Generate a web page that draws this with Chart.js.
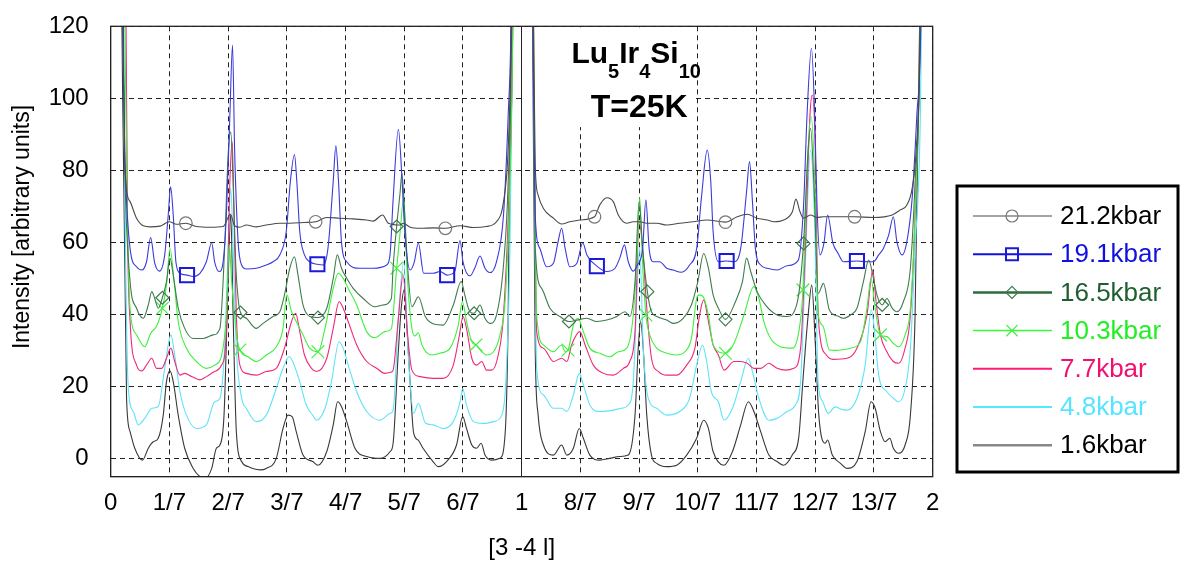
<!doctype html>
<html>
<head>
<title>Lu5Ir4Si10 T=25K</title>
<script src="https://cdn.jsdelivr.net/npm/chart.js@4/dist/chart.umd.min.js"></script>
<style>
body { margin: 0; background: #fff; }
#wrap { width: 1180px; height: 567px; }
</style>
</head>
<body>
<div id="wrap"><canvas id="canvas" width="1180" height="567"></canvas></div>
<script>
// x is read in sevenths of l (0 .. 14 = 0 .. 2), y in arbitrary units
const xTickLabels = ['0', '1/7', '2/7', '3/7', '4/7', '5/7', '6/7', '1', '8/7', '9/7', '10/7', '11/7', '12/7', '13/7', '2'];
const yTicks = [0, 20, 40, 60, 80, 100, 120];
const seriesNames = ['21.2kbar', '19.1kbar', '16.5kbar', '10.3kbar', '7.7kbar', '4.8kbar', '1.6kbar'];

const p212 = [[0,200],[0.17,200],[0.215,123],[0.24,81.5],[0.33,71.3],[0.44,66.7],[0.555,64.6],[0.67,64.3],[0.84,64.5],[1.0,65.7],[1.12,65.0],[1.28,65.3],[1.46,64.4],[1.69,64.2],[1.915,64.4],[2.04,67.8],[2.11,64.6],[2.2,64.2],[2.31,64.8],[2.48,64.3],[2.65,64.8],[2.88,65.3],[3.05,65.3],[3.3,65.5],[3.49,65.7],[3.68,66.9],[3.9,66.7],[4.13,66.5],[4.36,66.2],[4.47,65.9],[4.63,67.6],[4.73,65.3],[4.93,64.8],[4.98,65.3],[5.1,64.2],[5.27,63.9],[5.5,64.0],[5.7,63.9],[5.95,64.6],[6.18,64.1],[6.4,64.4],[6.57,65.7],[6.69,71.3],[6.77,86.1],[6.83,123],[6.88,200],[7.15,200],[7.2,123],[7.23,81.5],[7.28,73.1],[7.37,69.4],[7.54,66.7],[7.68,65.1],[7.82,65.7],[7.99,66.2],[8.24,67.1],[8.33,70.4],[8.45,72.4],[8.56,71.3],[8.645,67.6],[8.79,65.3],[8.9,65.7],[9.01,65.7],[9.13,65.3],[9.3,65.3],[9.47,64.8],[9.69,65.3],[9.92,65.7],[10.15,66.2],[10.47,65.6],[10.67,67.1],[10.84,67.8],[11.01,66.7],[11.18,66.2],[11.295,65.7],[11.46,66.2],[11.61,68.5],[11.67,72.0],[11.74,68.5],[11.8,66.7],[11.92,67.6],[12.03,66.9],[12.14,67.1],[12.48,67.1],[12.67,67.1],[12.99,66.9],[13.31,67.6],[13.45,69.0],[13.56,70.4],[13.65,75.0],[13.72,86.1],[13.78,113.9],[13.82,200],[14,200]];
const p191 = [[0,200],[0.16,200],[0.2,123],[0.24,85],[0.33,58.3],[0.44,53.2],[0.53,52.3],[0.61,54.6],[0.68,61.3],[0.75,54.2],[0.83,52.0],[0.92,56.5],[0.98,67.6],[1.02,75.4],[1.065,67.6],[1.11,54.6],[1.18,51.4],[1.3,50.9],[1.405,50.5],[1.52,51.4],[1.63,54.6],[1.72,59.9],[1.77,54.6],[1.85,51.9],[1.915,54.6],[1.97,67.6],[2.03,95.4],[2.075,114.8],[2.11,86.1],[2.17,60.2],[2.23,53.7],[2.31,52.6],[2.48,52.8],[2.65,53.7],[2.765,54.6],[2.88,56.5],[2.99,63.0],[3.06,76.9],[3.13,84.4],[3.17,76.9],[3.22,63.0],[3.3,56.5],[3.39,54.6],[3.52,53.9],[3.62,53.7],[3.7,58.3],[3.79,76.9],[3.835,86.8],[3.88,76.9],[3.93,60.2],[4.02,54.6],[4.24,52.8],[4.47,52.8],[4.7,53.7],[4.76,57.0],[4.81,71.8],[4.9,91.4],[4.96,78.0],[5.01,62.6],[5.1,52.3],[5.17,54.5],[5.24,59.8],[5.33,51.4],[5.49,51.4],[5.61,51.9],[5.73,50.9],[5.86,51.9],[5.95,60.5],[6.0,54.6],[6.12,50.7],[6.2,52.8],[6.29,56.2],[6.375,52.8],[6.46,51.6],[6.57,54.6],[6.69,67.6],[6.77,95.4],[6.82,123],[6.86,200],[7.15,200],[7.19,123],[7.23,67.6],[7.31,58.3],[7.425,53.2],[7.54,54.2],[7.62,60.2],[7.68,63.9],[7.74,58.3],[7.82,53.2],[7.94,54.2],[8.04,59.9],[8.11,56.5],[8.28,53.4],[8.45,51.9],[8.59,52.8],[8.67,55.6],[8.75,59.3],[8.815,54.6],[8.9,52.0],[8.97,53.7],[9.06,58.3],[9.115,71.8],[9.17,58.3],[9.24,54.6],[9.35,54.6],[9.47,52.8],[9.58,52.3],[9.72,51.7],[9.86,53.7],[9.98,58.3],[10.06,72.2],[10.16,85.6],[10.22,76.9],[10.26,63.0],[10.35,54.6],[10.49,54.8],[10.615,54.6],[10.73,58.3],[10.83,74.1],[10.88,82.4],[10.93,71.3],[10.98,58.3],[11.07,53.7],[11.18,52.8],[11.35,52.3],[11.52,53.5],[11.71,55.0],[11.8,70.0],[11.86,95.4],[11.935,113.9],[11.99,95.4],[12.03,70.0],[12.08,56.5],[12.15,60.0],[12.21,67.6],[12.3,59.8],[12.39,56.9],[12.48,54.6],[12.71,54.8],[12.88,54.6],[12.99,54.6],[13.08,56.5],[13.16,58.3],[13.25,62.0],[13.33,67.1],[13.39,60.2],[13.48,56.5],[13.56,60.2],[13.65,72.2],[13.73,95.4],[13.8,123],[13.84,200],[14,200]];
const p165 = [[0,200],[0.16,200],[0.2,123],[0.24,80],[0.33,49.1],[0.44,41.7],[0.555,38.9],[0.64,42.6],[0.7,46.3],[0.75,44.4],[0.81,41.7],[0.88,44.6],[0.95,49.1],[1.01,55.6],[1.065,50.9],[1.15,41.7],[1.26,36.1],[1.405,33.3],[1.575,33.3],[1.745,34.3],[1.86,36.1],[1.94,58.3],[2.0,84.3],[2.045,90.6],[2.085,76.9],[2.13,53.7],[2.17,44.4],[2.21,40.5],[2.31,38.9],[2.48,36.1],[2.595,37.5],[2.765,39.4],[2.88,40.7],[2.96,45.4],[3.05,52.8],[3.13,56.0],[3.19,50.9],[3.275,42.6],[3.39,39.4],[3.53,39.1],[3.68,41.7],[3.79,50.0],[3.86,56.5],[3.93,52.8],[4.02,50.0],[4.13,47.2],[4.3,44.4],[4.5,42.1],[4.64,42.6],[4.78,44.4],[4.81,53.0],[4.87,64.4],[4.93,74.0],[4.96,79.2],[5.0,70.0],[5.05,55.0],[5.13,42.1],[5.24,44.9],[5.36,39.3],[5.5,37.3],[5.66,37.0],[5.835,42.6],[5.97,49.1],[6.03,45.4],[6.12,40.7],[6.19,40.3],[6.29,42.6],[6.375,38.9],[6.46,37.5],[6.57,39.8],[6.69,53.7],[6.77,76.9],[6.83,123],[6.86,200],[7.15,200],[7.2,110],[7.23,58.3],[7.34,47.2],[7.48,41.7],[7.65,39.4],[7.805,38.0],[7.94,38.4],[8.11,38.9],[8.28,38.0],[8.45,38.4],[8.62,39.4],[8.76,40.7],[8.84,39.4],[8.93,49.1],[9.0,71.3],[9.06,58.3],[9.14,46.3],[9.21,40.7],[9.3,39.4],[9.47,38.4],[9.58,37.5],[9.75,38.9],[9.89,42.6],[10.0,49.1],[10.1,56.9],[10.18,52.8],[10.26,45.4],[10.35,41.7],[10.47,38.6],[10.64,43.5],[10.76,49.1],[10.83,55.6],[10.9,51.9],[11.01,46.3],[11.15,42.6],[11.35,39.8],[11.52,39.4],[11.69,43.1],[11.8,59.7],[11.88,86.1],[11.92,91.7],[11.98,75.0],[12.05,45.8],[12.14,48.6],[12.24,41.2],[12.4,39.4],[12.48,38.9],[12.6,39.8],[12.71,41.7],[12.82,49.1],[12.91,55.1],[12.98,50.9],[13.05,45.4],[13.14,42.6],[13.22,44.4],[13.31,41.7],[13.39,40.7],[13.5,43.5],[13.62,52.8],[13.7,76.9],[13.78,113.9],[13.82,200],[14,200]];
const p103 = [[0,200],[0.19,200],[0.24,123],[0.28,70],[0.33,41.7],[0.44,34.3],[0.58,31.0],[0.67,34.3],[0.7,35.2],[0.78,36.6],[0.88,41.7],[0.95,48.1],[1.01,58.3],[1.08,49.1],[1.15,38.0],[1.29,30.6],[1.46,26.9],[1.63,25.0],[1.77,25.9],[1.89,28.7],[1.97,39.8],[2.02,59.3],[2.06,49.1],[2.11,39.8],[2.15,33.3],[2.2,30.1],[2.34,28.2],[2.48,26.9],[2.65,28.7],[2.82,31.0],[2.935,36.1],[3.0,45.4],[3.08,40.7],[3.16,38.0],[3.275,34.3],[3.39,30.6],[3.53,29.6],[3.65,36.1],[3.79,47.2],[3.875,51.4],[3.96,50.0],[4.045,47.2],[4.19,42.6],[4.36,35.2],[4.5,33.5],[4.67,35.2],[4.78,36.0],[4.87,52.8],[4.93,63.0],[4.99,72.2],[5.03,58.0],[5.07,46.0],[5.13,36.0],[5.18,34.0],[5.24,34.9],[5.3,31.5],[5.47,28.7],[5.61,29.2],[5.78,30.6],[5.92,37.0],[5.99,43.5],[6.06,38.0],[6.15,32.4],[6.22,31.5],[6.32,29.6],[6.4,28.7],[6.52,29.6],[6.63,34.3],[6.72,44.4],[6.8,76.9],[6.85,123],[6.88,200],[7.16,200],[7.21,100],[7.255,39.8],[7.37,31.5],[7.54,29.6],[7.68,31.5],[7.74,29.6],[7.79,30.1],[7.88,37.0],[7.96,38.9],[8.05,35.2],[8.16,30.6],[8.33,29.2],[8.5,28.2],[8.645,29.6],[8.79,30.6],[8.9,39.8],[8.97,58.3],[9.01,72.4],[9.06,53.7],[9.115,39.8],[9.18,34.3],[9.3,30.6],[9.47,29.2],[9.64,28.7],[9.78,29.6],[9.89,33.3],[9.98,44.4],[10.02,45.4],[10.09,44.9],[10.18,39.8],[10.26,31.5],[10.47,29.2],[10.615,31.9],[10.785,39.8],[10.955,47.7],[11.04,44.4],[11.125,38.0],[11.24,33.3],[11.41,31.0],[11.61,30.6],[11.72,35.2],[11.79,46.8],[11.86,80.0],[11.93,95.0],[11.99,78.0],[12.05,40.0],[12.13,36.8],[12.24,30.1],[12.35,30.0],[12.43,30.1],[12.6,30.6],[12.77,32.4],[12.88,41.7],[12.95,50.0],[13.02,41.7],[13.11,34.3],[13.22,33.8],[13.33,31.9],[13.42,31.0],[13.53,34.3],[13.62,41.7],[13.7,67.6],[13.79,123],[13.84,200],[14,200]];
const p77 = [[0,200],[0.2,200],[0.26,123],[0.29,60],[0.33,38],[0.44,25.9],[0.53,24.3],[0.61,25.9],[0.7,27.8],[0.78,25.0],[0.87,25.0],[0.95,27.8],[1.025,30.6],[1.09,26.9],[1.18,23.1],[1.26,23.6],[1.38,22.7],[1.52,21.8],[1.63,22.7],[1.77,24.1],[1.89,25.9],[1.97,35.2],[2.03,76.9],[2.07,88.0],[2.1,67.6],[2.14,39.8],[2.2,25.9],[2.31,23.6],[2.48,23.1],[2.65,24.1],[2.82,25.0],[2.96,30.6],[3.08,38.0],[3.15,40.3],[3.22,35.2],[3.3,28.7],[3.42,25.0],[3.505,24.1],[3.68,27.8],[3.79,36.1],[3.89,43.5],[3.96,41.7],[4.045,38.0],[4.19,31.5],[4.36,26.9],[4.53,25.0],[4.67,23.6],[4.78,24.0],[4.81,24.5],[4.9,39.0],[4.98,51.0],[5.05,35.6],[5.13,24.5],[5.27,22.7],[5.49,22.2],[5.66,22.2],[5.835,25.9],[5.94,34.3],[6.0,39.4],[6.06,36.1],[6.15,27.8],[6.23,25.9],[6.32,26.9],[6.4,24.5],[6.49,24.5],[6.6,28.7],[6.69,39.8],[6.79,76.9],[6.85,123],[6.88,200],[7.16,200],[7.21,100],[7.255,35.2],[7.37,30.6],[7.54,26.9],[7.68,27.8],[7.77,26.9],[7.85,31.5],[7.99,35.2],[8.08,31.5],[8.22,25.9],[8.39,23.6],[8.56,23.1],[8.73,25.0],[8.84,26.9],[8.93,35.2],[9.0,65.7],[9.06,58.3],[9.13,41.7],[9.21,27.8],[9.33,24.1],[9.47,23.1],[9.64,23.1],[9.81,25.9],[9.95,30.6],[10.03,39.8],[10.1,44.0],[10.18,38.0],[10.26,31.5],[10.35,28.7],[10.445,24.5],[10.615,26.9],[10.73,26.9],[10.84,26.4],[10.955,25.0],[11.07,25.0],[11.21,26.4],[11.35,25.0],[11.49,24.5],[11.635,25.0],[11.75,30.6],[11.83,58.3],[11.91,95.4],[11.95,100.9],[12.0,86.1],[12.04,45.0],[12.08,34.0],[12.19,28.7],[12.3,27.5],[12.54,27.8],[12.71,30.6],[12.88,39.8],[12.98,52.3],[13.03,44.4],[13.11,34.3],[13.22,29.6],[13.33,26.9],[13.42,26.4],[13.53,30.6],[13.62,39.8],[13.7,67.6],[13.79,123],[13.84,200],[14,200]];
const p48 = [[0,200],[0.17,200],[0.215,123],[0.25,60],[0.3,19.4],[0.385,13.0],[0.47,9.3],[0.58,11.1],[0.7,13.9],[0.81,14.4],[0.92,25.0],[1.025,34.3],[1.09,28.7],[1.18,18.5],[1.29,12.0],[1.46,8.3],[1.63,9.3],[1.77,15.7],[1.86,16.7],[1.94,30.6],[2.0,58.3],[2.045,75.0],[2.085,58.3],[2.14,30.6],[2.23,16.7],[2.31,13.9],[2.48,10.2],[2.65,12.0],[2.82,19.4],[2.935,25.0],[3.04,28.2],[3.1,26.9],[3.22,21.3],[3.33,14.8],[3.44,12.0],[3.505,10.6],[3.65,13.9],[3.76,21.3],[3.89,32.4],[3.96,30.6],[4.045,25.9],[4.19,18.5],[4.36,13.0],[4.585,10.6],[4.76,12.5],[4.81,13.4],[4.9,39.0],[4.99,54.6],[5.07,28.2],[5.16,12.5],[5.24,15.3],[5.36,9.8],[5.49,9.3],[5.66,8.3],[5.835,10.2],[5.95,15.7],[5.995,19.4],[6.06,14.8],[6.18,10.2],[6.35,9.7],[6.52,10.2],[6.66,12.0],[6.73,21.3],[6.8,58.3],[6.85,123],[6.88,200],[7.16,200],[7.21,90],[7.255,25.0],[7.37,17.6],[7.54,13.9],[7.68,13.9],[7.77,13.0],[7.88,17.6],[7.98,23.6],[8.05,20.4],[8.16,14.8],[8.33,13.0],[8.56,13.4],[8.7,13.9],[8.815,14.8],[8.9,21.3],[8.985,53.7],[9.01,58.3],[9.07,30.6],[9.155,16.7],[9.3,13.9],[9.47,12.0],[9.69,13.0],[9.86,16.7],[9.98,25.9],[10.08,31.5],[10.15,26.9],[10.23,18.5],[10.35,15.7],[10.445,10.6],[10.59,13.9],[10.73,21.3],[10.86,27.8],[10.93,24.1],[11.04,16.7],[11.21,10.6],[11.35,11.1],[11.52,13.0],[11.66,14.8],[11.75,21.3],[11.82,49.1],[11.92,85.6],[11.99,65.0],[12.05,20.9],[12.12,16.0],[12.22,12.5],[12.34,14.3],[12.45,13.6],[12.54,13.4],[12.71,16.7],[12.85,25.9],[12.955,41.2],[13.01,35.2],[13.08,23.1],[13.22,18.5],[13.33,16.7],[13.42,15.7],[13.53,19.4],[13.62,30.6],[13.7,58.3],[13.79,95.4],[13.86,200],[14,200]];
const p16 = [[0,200],[0.15,200],[0.19,123],[0.27,16.7],[0.33,7.4],[0.41,2.8],[0.54,-0.5],[0.64,2.8],[0.725,4.6],[0.81,5.6],[0.895,12.0],[0.95,21.3],[1.01,24.3],[1.065,21.3],[1.15,12.0],[1.26,2.8],[1.405,-2.8],[1.52,-5.1],[1.6,-5.7],[1.72,-2.8],[1.8,2.8],[1.86,3.7],[1.93,12.0],[2.0,49.1],[2.045,67.9],[2.085,39.8],[2.14,7.4],[2.23,-0.9],[2.34,-2.3],[2.54,-3.2],[2.65,-2.8],[2.82,0],[2.935,8.3],[3.02,12.0],[3.09,11.6],[3.16,7.4],[3.275,0.9],[3.44,-0.9],[3.53,-1.9],[3.68,1.9],[3.79,9.3],[3.865,15.7],[3.93,14.4],[4.02,10.2],[4.16,2.8],[4.36,0.5],[4.585,0],[4.76,1.9],[4.81,4.2],[4.9,30.0],[4.95,42.0],[5.0,46.8],[5.05,35.0],[5.1,20.9],[5.16,7.0],[5.24,5.0],[5.32,2.8],[5.49,-0.9],[5.58,-2.3],[5.72,-0.9],[5.89,3.7],[5.995,11.6],[6.06,8.3],[6.15,3.7],[6.23,2.8],[6.31,4.2],[6.375,0.9],[6.49,-0.5],[6.63,0],[6.72,7.4],[6.77,39.8],[6.82,123],[6.85,200],[7.15,200],[7.19,110],[7.23,30.6],[7.28,12.0],[7.37,3.7],[7.54,0.9],[7.68,3.7],[7.77,0.9],[7.88,2.8],[7.98,8.3],[8.05,5.6],[8.16,0.9],[8.33,-0.5],[8.5,0],[8.67,0.5],[8.815,0.9],[8.93,12.0],[8.985,30.6],[9.025,38.0],[9.07,30.6],[9.13,12.0],[9.21,0.9],[9.3,-1.4],[9.47,-2.3],[9.64,-1.9],[9.81,0.9],[9.98,5.6],[10.1,10.6],[10.18,8.3],[10.26,1.9],[10.445,-1.9],[10.59,1.9],[10.73,9.3],[10.86,15.7],[10.955,13.0],[11.07,7.4],[11.21,0.9],[11.35,-0.9],[11.46,-1.9],[11.61,1.0],[11.72,6.0],[11.79,21.7],[11.88,40.0],[11.94,48.1],[12.0,32.0],[12.06,12.0],[12.17,4.2],[12.21,5.1],[12.29,0.9],[12.43,-1.4],[12.54,-2.8],[12.71,-0.9],[12.85,7.4],[12.95,15.7],[13.02,13.9],[13.11,7.4],[13.19,4.6],[13.27,5.6],[13.33,2.8],[13.42,1.4],[13.53,3.7],[13.62,12.0],[13.7,39.8],[13.78,123],[13.82,200],[14,200]];

// x positions (sevenths) where the original carries a symbol
const m212 = [1.28, 3.49, 5.7, 8.24, 10.47, 12.67];
const m191 = [1.3, 3.52, 5.73, 8.28, 10.49, 12.71];
const m165 = [0.88, 2.21, 3.53, 4.87, 6.19, 7.805, 9.14, 10.47, 11.8, 13.14];
const m103 = [0.88, 2.2, 3.53, 4.87, 6.22, 7.79, 9.115, 10.47, 11.79, 13.11];

const FONT = "'Liberation Sans', Arial, Helvetica, sans-serif";
Chart.defaults.font.family = FONT;
Chart.defaults.color = '#000';

const styles = [
  { pts: p212, marks: m212, line: '#4a4a4a', text: '#000', key: '#4a4a4a', keyW: 1.2, mark: 'circle', mColor: '#777', r: 6.3, mw: 1.2 },
  { pts: p191, marks: m191, line: '#3a3adc', text: '#1010e0', key: '#1010e0', keyW: 2, mark: 'rect', mColor: '#1a1ad8', r: 10, mw: 2 },
  { pts: p165, marks: m165, line: '#3f7b4e', text: '#1e5f30', key: '#2e6b3e', keyW: 2.5, mark: 'rectRot', mColor: '#3f7b4e', r: 6.5, mw: 1.2 },
  { pts: p103, marks: m103, line: '#3ef03e', text: '#22ee22', key: '#33ff33', keyW: 1.5, mark: 'crossRot', mColor: '#44ee44', r: 9, mw: 1.2 },
  { pts: p77, marks: [], line: '#f0287a', text: '#f0106e', key: '#ff1a75', keyW: 2, mark: false },
  { pts: p48, marks: [], line: '#5ee3f8', text: '#55e5ff', key: '#55e8ff', keyW: 2, mark: false },
  { pts: p16, marks: [], line: '#383838', text: '#000', key: '#888', keyW: 2.5, mark: false }
];

function drawMark(ctx, st, x, y) {
  ctx.save();
  ctx.strokeStyle = st.mColor;
  ctx.lineWidth = st.mw;
  ctx.beginPath();
  if (st.mark === 'circle') {
    ctx.arc(x, y, st.r, 0, Math.PI * 2);
  } else if (st.mark === 'rect') {
    const h = st.r * Math.SQRT1_2;
    ctx.rect(x - h, y - h, 2 * h, 2 * h);
  } else if (st.mark === 'rectRot') {
    ctx.moveTo(x - st.r, y); ctx.lineTo(x, y - st.r); ctx.lineTo(x + st.r, y); ctx.lineTo(x, y + st.r); ctx.closePath();
  } else if (st.mark === 'crossRot') {
    const h = st.r * Math.SQRT1_2;
    ctx.moveTo(x - h, y - h); ctx.lineTo(x + h, y + h);
    ctx.moveTo(x + h, y - h); ctx.lineTo(x - h, y + h);
  }
  ctx.stroke();
  ctx.restore();
}

const decor = {
  id: 'decor',
  beforeDatasetsDraw(chart) {
    const { ctx, chartArea: a, scales: { x, y } } = chart;
    // the formula label sits on a white patch that hides the grid behind it
    ctx.save();
    ctx.fillStyle = '#fff';
    const l = x.getPixelForValue(7.04), r = x.getPixelForValue(9.94);
    ctx.fillRect(l, a.top + 1, r - l, y.getPixelForValue(92) - a.top - 1);
    ctx.restore();
  },
  afterDatasetsDraw(chart) {
    const { ctx, chartArea: a, scales: { x, y } } = chart;
    ctx.save();
    ctx.strokeStyle = '#222';
    ctx.lineWidth = 1.3;
    ctx.strokeRect(a.left, a.top, a.right - a.left, a.bottom - a.top);

    // title: Lu5Ir4Si10 / T=25K
    const parts = [['Lu', 0], ['5', 1], ['Ir', 0], ['4', 1], ['Si', 0], ['10', 1]];
    const big = 'bold 30px ' + FONT, small = 'bold 20px ' + FONT;
    let total = 0;
    parts.forEach(p => { ctx.font = p[1] ? small : big; total += ctx.measureText(p[0]).width; });
    let cx = x.getPixelForValue(8.95) - total / 2;
    const base = y.getPixelForValue(109.7);
    ctx.fillStyle = '#000';
    ctx.textAlign = 'left';
    ctx.textBaseline = 'alphabetic';
    parts.forEach(p => {
      ctx.font = p[1] ? small : big;
      ctx.fillText(p[0], cx, p[1] ? base + 15 : base);
      cx += ctx.measureText(p[0]).width;
    });
    ctx.font = 'bold 32px ' + FONT;
    ctx.textAlign = 'center';
    ctx.fillText('T=25K', x.getPixelForValue(9.0), y.getPixelForValue(94.9));

    // axis titles
    ctx.font = '24px ' + FONT;
    ctx.textBaseline = 'middle';
    ctx.fillText('[3 -4 l]', (a.left + a.right) / 2, 548);
    ctx.save();
    ctx.translate(23, 227);
    ctx.rotate(-Math.PI / 2);
    ctx.font = '23px ' + FONT;
    ctx.fillText('Intensity [arbitrary units]', 0, 0);
    ctx.restore();

    // legend box
    ctx.lineWidth = 3;
    ctx.strokeStyle = '#000';
    ctx.strokeRect(957, 186, 221, 286);
    ctx.font = '26px ' + FONT;
    ctx.textAlign = 'left';
    styles.forEach((st, i) => {
      const ry = 216 + i * 38.2;
      ctx.strokeStyle = st.key;
      ctx.lineWidth = st.keyW;
      ctx.beginPath();
      ctx.moveTo(973, ry);
      ctx.lineTo(1052, ry);
      ctx.stroke();
      if (st.mark) drawMark(ctx, { ...st, r: st.mark === 'rect' ? 8.5 : (st.mark === 'crossRot' ? 8 : 6) }, 1012, ry);
      ctx.fillStyle = st.text;
      ctx.fillText(seriesNames[i], 1060, ry + 1);
    });
    ctx.restore();
  }
};

const dashes = [5, 4];

new Chart(document.getElementById('canvas'), {
  type: 'line',
  data: {
    datasets: styles.map((st, i) => ({
      label: seriesNames[i],
      data: st.pts.map(p => ({ x: p[0], y: p[1] })),
      borderColor: st.line,
      borderWidth: 1.1,
      cubicInterpolationMode: 'monotone',
      pointStyle: st.mark || 'circle',
      pointRadius: ctx => (st.mark && ctx.raw && st.marks.includes(ctx.raw.x) ? st.r : 0),
      pointHoverRadius: 0,
      pointBorderColor: st.mColor || st.line,
      pointBorderWidth: st.mw || 1,
      pointBackgroundColor: 'rgba(0,0,0,0)',
      clip: 0
    }))
  },
  options: {
    responsive: false,
    animation: false,
    devicePixelRatio: 1,
    events: [],
    layout: { padding: { left: 0, top: 26.3, right: 247.3, bottom: 0 } },
    plugins: { legend: { display: false }, tooltip: { enabled: false } },
    scales: {
      x: {
        type: 'linear',
        min: 0,
        max: 14,
        afterBuildTicks: ax => { ax.ticks = xTickLabels.map((_, i) => ({ value: i })); },
        afterFit: ax => { ax.height = 90.3; ax.paddingLeft = 0; ax.paddingRight = 0; },
        ticks: {
          callback: (v, i) => xTickLabels[i],
          autoSkip: false,
          maxRotation: 0,
          font: { size: 24 },
          padding: 12
        },
        grid: { color: '#222', lineWidth: 1, drawTicks: false },
        border: { display: true, color: '#222', width: 1, dash: ctx => (ctx.tick && ctx.tick.value === 7 ? [] : dashes) }
      },
      y: {
        type: 'linear',
        min: -5.1,
        max: 120,
        afterBuildTicks: ax => { ax.ticks = yTicks.map(v => ({ value: v })); },
        // keep the label padding from pushing the plot top down
        afterFit: ax => { ax.width = 110.7; ax.paddingTop = 0; ax.paddingBottom = 0; },
        ticks: { font: { size: 24 }, padding: 22 },
        grid: { color: '#222', lineWidth: 1, drawTicks: false },
        border: { display: true, color: '#222', width: 1, dash: dashes }
      }
    }
  },
  plugins: [decor]
});
</script>
</body>
</html>
